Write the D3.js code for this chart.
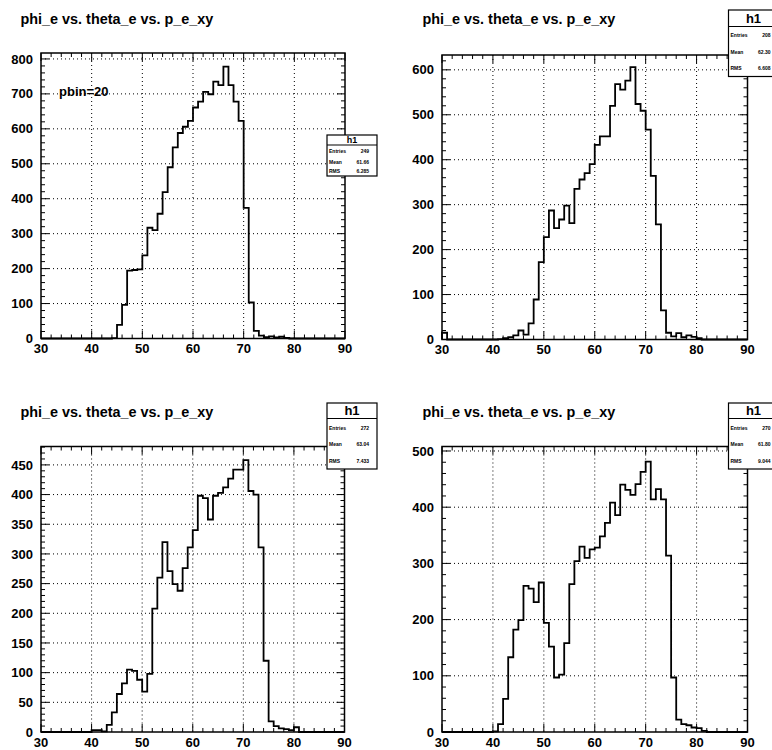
<!DOCTYPE html>
<html>
<head>
<meta charset="utf-8">
<script src="https://cdn.jsdelivr.net/npm/d3@7"></script>
<style>
body { margin: 0; background: #fff; }
text { font-family: "Liberation Sans", Arial, Helvetica, sans-serif; font-weight: bold; fill: #000; }
</style>
</head>
<body>
<svg id="canvas" width="772" height="750"></svg>
<script>
// bins are 1 unit wide, lower edges 30 .. 89
var xLow = 30, xHigh = 90;
var xTickValues = [30, 40, 50, 60, 70, 80, 90];
var titleText = "phi_e vs. theta_e vs. p_e_xy";

var counts1 = [
  0, 0, 0, 0, 0, 0, 0, 0, 0, 0,
  0, 0, 0, 0, 1, 39, 96, 194, 196, 198,
  238, 317, 310, 357, 419, 490, 547, 588, 606, 623,
  661, 678, 706, 699, 735, 725, 778, 725, 678, 623,
  374, 103, 22, 8, 4, 6, 3, 5, 2, 0,
  0, 0, 0, 0, 0, 0, 0, 0, 0, 0
];
var counts2 = [
  15, 0, 0, 0, 0, 0, 0, 0, 0, 0,
  0, 1, 3, 5, 9, 20, 11, 36, 89, 172,
  228, 287, 248, 267, 298, 259, 335, 356, 370, 390,
  433, 452, 452, 520, 568, 556, 576, 606, 524, 509,
  467, 364, 256, 65, 15, 7, 14, 5, 9, 6,
  3, 0, 0, 0, 0, 0, 0, 0, 0, 0
];
var counts3 = [
  0, 0, 0, 0, 0, 0, 0, 0, 0, 0,
  3, 3, 1, 12, 33, 64, 82, 105, 103, 88,
  68, 98, 208, 260, 320, 271, 249, 238, 276, 311,
  340, 398, 394, 358, 398, 403, 412, 427, 442, 442,
  458, 406, 400, 311, 120, 18, 10, 6, 5, 3,
  8, 0, 0, 0, 0, 0, 0, 0, 0, 0
];
var counts4 = [
  0, 0, 0, 0, 0, 0, 0, 0, 0, 0,
  1, 14, 59, 133, 182, 199, 260, 255, 231, 266,
  194, 152, 97, 102, 158, 263, 304, 330, 310, 325,
  328, 348, 372, 408, 386, 440, 431, 422, 441, 463,
  481, 414, 432, 414, 314, 97, 22, 14, 12, 8,
  7, 2, 0, 0, 0, 0, 0, 0, 0, 0
];

var yMaxes = [817, 633, 481, 508];
var yTickSteps = [100, 100, 50, 100];
var statNames = ["Entries", "Mean", "RMS"];
var statValues = [
  ["249", "61.66", "6.285"],
  ["208", "62.30", "6.608"],
  ["272", "63.04", "7.433"],
  ["270", "61.80", "9.044"]
];

var panels = [
  { counts: counts1, frame: { l: 41, r: 345, t: 53, b: 338.5 }, title: [20.5, 24],
    box: { x: 327, y: 135, w: 50, h: 41, head: 10, hSize: 9, rows: [151, 161.5, 171] } },
  { counts: counts2, frame: { l: 442, r: 747.5, t: 55, b: 339.5 }, title: [422.5, 24],
    box: { x: 728.5, y: 10, w: 50, h: 66.5, head: 16.5, hSize: 13, rows: [35, 51.5, 68] } },
  { counts: counts3, frame: { l: 41, r: 344.5, t: 446.5, b: 732 }, title: [20.5, 416.5],
    box: { x: 327, y: 403, w: 50, h: 66, head: 15.5, hSize: 13, rows: [427.5, 444, 461] } },
  { counts: counts4, frame: { l: 442, r: 747.5, t: 446.5, b: 732 }, title: [422.5, 416.5],
    box: { x: 728.5, y: 403, w: 50, h: 66, head: 15.5, hSize: 13, rows: [427.5, 444, 461] } }
];

var svg = d3.select("#canvas");

panels.forEach(function(p, k) {
  var f = p.frame;
  var x = d3.scaleLinear().domain([xLow, xHigh]).range([f.l, f.r]);
  var y = d3.scaleLinear().domain([0, yMaxes[k]]).range([f.b, f.t]);
  var step = yTickSteps[k];
  var yMajor = d3.range(0, yMaxes[k] + 0.001, step);
  var yMinor = d3.range(0, yMaxes[k] + 0.001, step / 5);
  var xMinor = d3.range(xLow, xHigh + 0.001, 2);

  var g = svg.append("g");

  // dotted grid
  g.selectAll(".gx").data(xTickValues.slice(1, -1)).enter()
    .append("line")
    .attr("x1", d => x(d)).attr("x2", d => x(d))
    .attr("y1", f.t).attr("y2", f.b)
    .attr("stroke", "#000").attr("stroke-width", 1).attr("stroke-dasharray", "1,3");
  g.selectAll(".gy").data(yMajor.slice(1)).enter()
    .append("line")
    .attr("x1", f.l).attr("x2", f.r)
    .attr("y1", d => y(d)).attr("y2", d => y(d))
    .attr("stroke", "#000").attr("stroke-width", 1).attr("stroke-dasharray", "1,3");

  // histogram outline
  var pts = [[xLow, 0]].concat(p.counts.map((c, i) => [xLow + i, c])).concat([[xHigh, 0]]);
  var line = d3.line().x(d => x(d[0])).y(d => y(d[1])).curve(d3.curveStepAfter);
  g.append("path").attr("d", line(pts))
    .attr("fill", "none").attr("stroke", "#000").attr("stroke-width", 1.8);

  // ticks on all four sides, pointing inward
  var ticks = g.append("g").attr("stroke", "#000").attr("stroke-width", 1);
  xMinor.forEach(function(v) {
    var len = (v % 10 === 0) ? 8 : 4;
    ticks.append("line").attr("x1", x(v)).attr("x2", x(v)).attr("y1", f.b).attr("y2", f.b - len);
    ticks.append("line").attr("x1", x(v)).attr("x2", x(v)).attr("y1", f.t).attr("y2", f.t + len);
  });
  yMinor.forEach(function(v) {
    var len = (v % step === 0) ? 8 : 4;
    ticks.append("line").attr("y1", y(v)).attr("y2", y(v)).attr("x1", f.l).attr("x2", f.l + len);
    ticks.append("line").attr("y1", y(v)).attr("y2", y(v)).attr("x1", f.r).attr("x2", f.r - len);
  });

  // frame
  g.append("rect").attr("x", f.l).attr("y", f.t).attr("width", f.r - f.l).attr("height", f.b - f.t)
    .attr("fill", "none").attr("stroke", "#000").attr("stroke-width", 1.5);

  // labels
  g.selectAll(".xl").data(xTickValues).enter()
    .append("text").attr("x", d => x(d)).attr("y", f.b + 14.5)
    .attr("text-anchor", "middle").style("font-size", "13px").text(d => d);
  g.selectAll(".yl").data(yMajor).enter()
    .append("text").attr("x", f.l - 8).attr("y", d => y(d) + 4.6)
    .attr("text-anchor", "end").style("font-size", "13px").text(d => d);

  // title
  g.append("text").attr("x", p.title[0]).attr("y", p.title[1])
    .style("font-size", "14.4px").text(titleText);

  // stats box
  var b = p.box;
  var sb = g.append("g");
  sb.append("rect").attr("x", b.x).attr("y", b.y).attr("width", b.w).attr("height", b.h)
    .attr("fill", "#fff").attr("stroke", "#000").attr("stroke-width", 1.2);
  sb.append("line").attr("x1", b.x).attr("x2", b.x + b.w)
    .attr("y1", b.y + b.head).attr("y2", b.y + b.head)
    .attr("stroke", "#000").attr("stroke-width", 1.2);
  sb.append("text").attr("x", b.x + b.w / 2).attr("y", b.y + b.head / 2 + b.hSize * 0.36)
    .attr("text-anchor", "middle").style("font-size", b.hSize + "px").text("h1");
  statNames.forEach(function(n, i) {
    sb.append("text").attr("x", b.x + 2).attr("y", b.rows[i] + 2)
      .style("font-size", "5px").text(n);
    sb.append("text").attr("x", b.x + b.w - 8).attr("y", b.rows[i] + 2)
      .attr("text-anchor", "end").style("font-size", "5px").text(statValues[k][i]);
  });
});

// text inside the first pad
svg.append("text").attr("x", 59).attr("y", 95.5).style("font-size", "13px").text("pbin=20");
</script>
</body>
</html>
